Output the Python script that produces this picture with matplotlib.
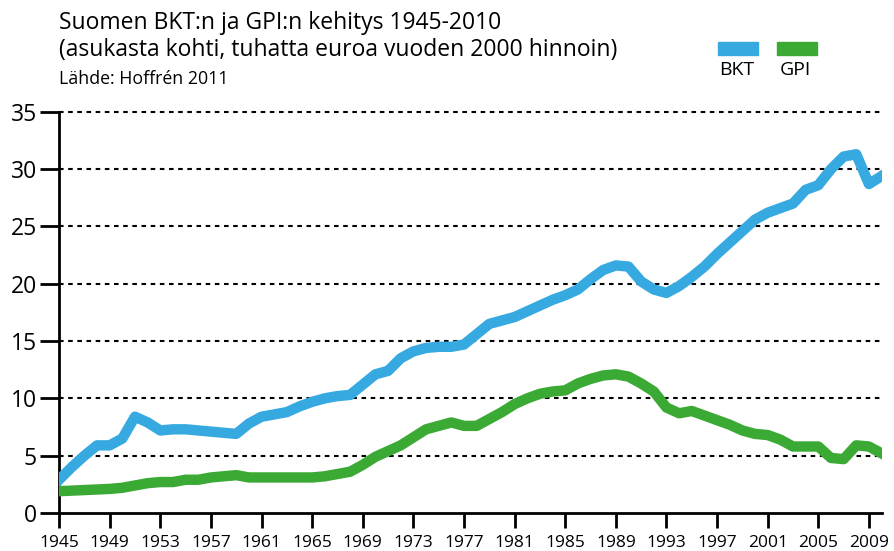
import matplotlib.pyplot as plt

# Vuodet ja sarjat (tuhatta euroa / asukas, vuoden 2000 hinnoin)
years = list(range(1945, 2011))
bkt = [2.9, 4.0, 5.0, 5.9, 5.9, 6.5, 8.4, 7.9, 7.2, 7.3,
       7.3, 7.2, 7.1, 7.0, 6.9, 7.8, 8.4, 8.6, 8.8, 9.3,
       9.7, 10.0, 10.2, 10.3, 11.2, 12.1, 12.4, 13.5, 14.1, 14.4,
       14.5, 14.5, 14.7, 15.6, 16.5, 16.8, 17.1, 17.6, 18.1, 18.6,
       19.0, 19.5, 20.4, 21.2, 21.6, 21.5, 20.2, 19.5, 19.2, 19.8,
       20.6, 21.5, 22.6, 23.6, 24.6, 25.6, 26.2, 26.6, 27.0, 28.2,
       28.6, 30.0, 31.1, 31.3, 28.7, 29.4]
gpi = [1.9, 1.95, 2.0, 2.05, 2.1, 2.2, 2.4, 2.6, 2.7, 2.7,
       2.9, 2.9, 3.1, 3.2, 3.3, 3.1, 3.1, 3.1, 3.1, 3.1,
       3.1, 3.2, 3.4, 3.6, 4.2, 4.9, 5.4, 5.9, 6.6, 7.3,
       7.6, 7.9, 7.6, 7.6, 8.2, 8.8, 9.5, 10.0, 10.4, 10.6,
       10.7, 11.3, 11.7, 12.0, 12.1, 11.9, 11.3, 10.6, 9.2, 8.7,
       8.9, 8.5, 8.1, 7.7, 7.2, 6.9, 6.8, 6.4, 5.8, 5.8,
       5.8, 4.8, 4.7, 5.9, 5.8, 5.2]
xticks = list(range(1945, 2010, 4))
yticks = list(range(0, 36, 5))

blue = '#36a9e1'
green = '#3aaa35'

plt.rcParams['font.family'] = ['Open Sans', 'DejaVu Sans']

fig = plt.figure(figsize=(8.95, 5.51), dpi=100)
ax = fig.add_axes([0.066, 0.069, 0.919, 0.728])

for y in yticks[1:]:
    ax.axhline(y, color='black', lw=1.5, linestyle=(0, (2.2, 2.2)), zorder=1, clip_on=False)

ax.plot(years, bkt, color=blue, lw=7.5, solid_joinstyle='round', zorder=3)
ax.plot(years, gpi, color=green, lw=7.5, solid_joinstyle='round', zorder=3)

ax.set_xlim(1945, 2010)
ax.set_ylim(0, 35)
ax.set_xticks(xticks)
ax.set_yticks(yticks)
ax.tick_params(axis='x', length=11, width=2, labelsize=12.5, pad=5)
ax.tick_params(axis='y', length=14, width=2, labelsize=16.5, pad=2)
for s in ['top', 'right']:
    ax.spines[s].set_visible(False)
ax.spines['left'].set_linewidth(2)
ax.spines['bottom'].set_linewidth(2)
ax.spines['bottom'].set_bounds(1945, 2010)

# Otsikot
fig.text(0.066, 0.958, "Suomen BKT:n ja GPI:n kehitys 1945-2010", fontsize=16.5, va='center')
fig.text(0.066, 0.910, "(asukasta kohti, tuhatta euroa vuoden 2000 hinnoin)", fontsize=16.5, va='center')
fig.text(0.066, 0.857, "Lähde: Hoffrén 2011", fontsize=12.8, va='center')

# Selite
fig.patches.append(plt.Rectangle((718 / 895, 1 - 55 / 551), 40 / 895, 13 / 551,
                                 transform=fig.transFigure, color=blue))
fig.patches.append(plt.Rectangle((777 / 895, 1 - 55 / 551), 40 / 895, 13 / 551,
                                 transform=fig.transFigure, color=green))
fig.text(737 / 895, 1 - 70 / 551, "BKT", fontsize=14, ha='center', va='center')
fig.text(795 / 895, 1 - 70 / 551, "GPI", fontsize=14, ha='center', va='center')

plt.savefig("out.png", dpi=100)
